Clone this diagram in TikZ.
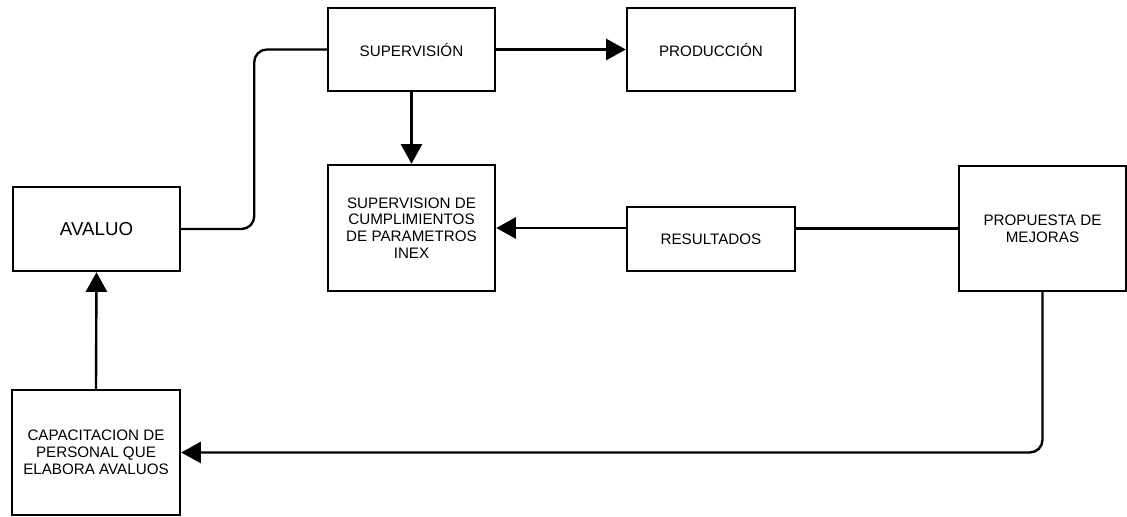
\documentclass[tikz,border=0pt]{standalone}
\usepackage{fontspec}
\setmainfont{Liberation Sans}
\usetikzlibrary{arrows.meta}

\begin{document}
\begin{tikzpicture}[x=0.025cm, y=-0.025cm,
        box/.style={draw, line width=1.7pt, rectangle, align=center, inner sep=0pt,
            font=\fontsize{10.8}{11.9}\selectfont},
        conn/.style={line width=1.7pt},
        flow/.style={line width=1.7pt, -{Triangle[length=14pt, width=15pt]}}]
            \useasboundingbox (0,0) rectangle (1127,517);
            \node[box, minimum width=4.175cm, minimum height=2.1cm, font=\fontsize{13.3}{15}\selectfont] (aval) at (96.5,229) {AVALUO};
            \node[box, minimum width=4.175cm, minimum height=2.075cm] (superv) at (411.5,49.5) {SUPERVISIÓN};
            \node[box, minimum width=4.2cm, minimum height=2.075cm] (prod) at (711,49.5) {PRODUCCIÓN};
            \node[box, minimum width=4.175cm, minimum height=3.15cm] (cumpl) at (411.5,228) {SUPERVISION DE\\CUMPLIMIENTOS\\DE PARAMETROS\\INEX};
            \node[box, minimum width=4.2cm, minimum height=1.6cm] (result) at (711,239) {RESULTADOS};
            \node[box, minimum width=4.175cm, minimum height=3.125cm] (prop) at (1042.5,228.5) {PROPUESTA DE\\MEJORAS};
            \node[box, minimum width=4.2cm, minimum height=3.125cm] (capac) at (96,452.5) {CAPACITACION DE\\PERSONAL QUE\\ELABORA AVALUOS};
            \draw[conn, rounded corners=9pt] (aval.east) -- ++(73,0) |- (superv.west);
            \draw[flow] (superv.east) -- (prod.west);
            \draw[flow] (superv.south) -- (cumpl.north);
            \draw[flow] (result.west |- cumpl.east) -- (cumpl.east);
            \draw[conn] (prop.west) -- (result.east |- prop.west);
            \draw[flow, rounded corners=9pt] (prop.south) |- (capac.east);
            \draw[flow] (capac.north) -- (aval.south);
        \end{tikzpicture}
\end{document}
